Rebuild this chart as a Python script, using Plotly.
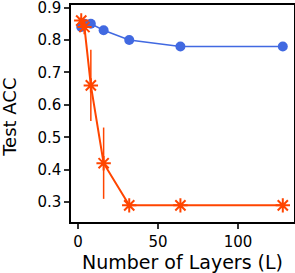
import plotly.graph_objects as go

layers = [2, 4, 8, 16, 32, 64, 128]
blue_acc = [0.84, 0.85, 0.85, 0.83, 0.80, 0.78, 0.78]
blue_err = [0.01, 0.01, 0.01, 0.01, 0.01, 0.01, 0.01]
orange_acc = [0.86, 0.84, 0.66, 0.42, 0.29, 0.29, 0.29]
orange_err = [0.01, 0.01, 0.11, 0.11, 0.0, 0.0, 0.0]
x_ticks = [0, 50, 100]
y_ticks = [0.3, 0.4, 0.5, 0.6, 0.7, 0.8, 0.9]

BLUE = "#4169E1"
ORANGE = "#FF4500"

fig = go.Figure()
fig.add_trace(go.Scatter(
    x=layers, y=blue_acc, mode="lines+markers",
    line=dict(color=BLUE, width=1.5),
    marker=dict(symbol="circle", size=10, color=BLUE),
    error_y=dict(type="data", array=blue_err, color=BLUE, thickness=1.5, width=0),
    showlegend=False,
))
fig.add_trace(go.Scatter(
    x=layers, y=orange_acc, mode="lines+markers",
    line=dict(color=ORANGE, width=2),
    marker=dict(symbol="asterisk-open", size=12, color=ORANGE, line=dict(color=ORANGE, width=2)),
    error_y=dict(type="data", array=orange_err, color=ORANGE, thickness=1.5, width=0),
    showlegend=False,
))

axis_common = dict(
    showgrid=False, zeroline=False, showline=True, linecolor="black", linewidth=1.5,
    mirror=True, ticks="outside", ticklen=5, tickwidth=1.5, tickcolor="#333",
    tickfont=dict(family="DejaVu Sans", size=15, color="black"),
    automargin=False, ticklabeloverflow="allow",
)
fig.update_xaxes(
    range=[-4.4, 135], tickvals=x_ticks, ticktext=[str(v) for v in x_ticks],
    title=dict(text="Number of Layers (L)", font=dict(family="DejaVu Sans", size=19, color="black"), standoff=4),
    **axis_common,
)
fig.update_yaxes(
    range=[0.2386, 0.908], tickvals=y_ticks, ticktext=[f"{v:.1f}" for v in y_ticks],
    **axis_common,
)
fig.add_annotation(
    text="Test ACC", textangle=-90, showarrow=False,
    xref="paper", yref="paper", x=-0.2735, y=0.48, xanchor="center", yanchor="middle",
    font=dict(family="DejaVu Sans", size=18, color="black"),
)
fig.update_layout(
    width=295, height=273,
    margin=dict(l=71, r=1, t=5, b=51),
    plot_bgcolor="white", paper_bgcolor="white",
    font=dict(family="DejaVu Sans"),
)
fig.write_html("out.html", config={"displayModeBar": False},
               post_script="document.body.style.margin='0';document.body.style.overflow='hidden';")
